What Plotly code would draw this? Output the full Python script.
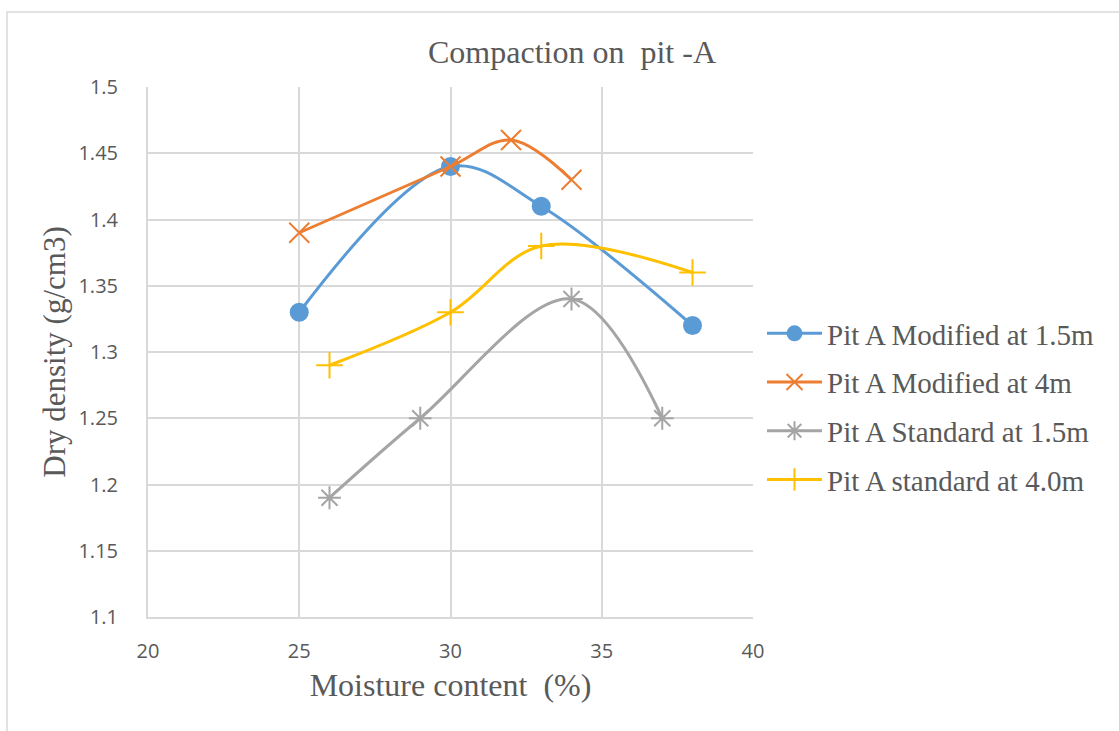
import plotly.graph_objects as go

mod15_x = [25, 30, 33, 38]
mod15_y = [1.33, 1.44, 1.41, 1.32]
mod4_x = [25, 30, 32, 34]
mod4_y = [1.39, 1.44, 1.46, 1.43]
std15_x = [26, 29, 34, 37]
std15_y = [1.19, 1.25, 1.34, 1.25]
std4_x = [26, 30, 33, 38]
std4_y = [1.29, 1.33, 1.38, 1.36]

names = ["Pit A Modified at 1.5m", "Pit A Modified at 4m",
         "Pit A Standard at 1.5m", "Pit A standard at 4.0m"]
colors = ["#5B9BD5", "#ED7D31", "#A5A5A5", "#FFC000"]
symbols = ["circle", "x-thin", "asterisk", "cross-thin"]
sizes = [19, 20, 19, 19]
xs = [mod15_x, mod4_x, std15_x, std4_x]
ys = [mod15_y, mod4_y, std15_y, std4_y]

fig = go.Figure()
for i in range(4):
    sym_line = dict(color=colors[i], width=2) if i > 0 else dict(width=0)
    fig.add_trace(go.Scatter(
        x=xs[i], y=ys[i], name=names[i], mode="lines+markers",
        line=dict(color=colors[i], width=3, shape="spline", smoothing=1.0),
        marker=dict(symbol=symbols[i], size=sizes[i], color=colors[i], line=sym_line),
        legendgroup=str(i),
    ))

W, H = 1119, 731
L, R, T, B = 148, 753, 87, 617
pw, ph = R - L, B - T

fig.update_layout(
    width=W, height=H,
    margin=dict(l=L, r=W - R, t=T, b=H - B),
    paper_bgcolor="white", plot_bgcolor="white",
    showlegend=True,
    title=dict(text="Compaction on  pit -A", x=572 / W, xanchor="center",
               y=1 - 52 / H, yanchor="middle", xref="container", yref="container",
               font=dict(family="Liberation Serif", size=32, color="#595959")),
    legend=dict(x=(762 - L) / pw, xanchor="left", y=(B - 308) / ph, yanchor="top",
                font=dict(family="Liberation Serif", size=29, color="#595959"),
                tracegroupgap=8, itemwidth=55, bgcolor="rgba(0,0,0,0)"),
    xaxis=dict(range=[20, 40], dtick=5, showgrid=True, gridcolor="#D9D9D9", gridwidth=2,
               zeroline=False, showline=True, linecolor="#D9D9D9", linewidth=2, ticks="",
               ticklabelstandoff=15,
               tickfont=dict(family="Open Sans", size=20, color="#595959"),
               title=dict(text="Moisture content  (%)", standoff=11,
                          font=dict(family="Liberation Serif", size=32, color="#595959"))),
    yaxis=dict(range=[1.1, 1.5], dtick=0.05, showgrid=True, gridcolor="#D9D9D9", gridwidth=2,
               zeroline=False, showline=True, linecolor="#D9D9D9", linewidth=2, ticks="",
               ticklabelstandoff=24,
               tickfont=dict(family="Open Sans", size=20, color="#595959"),
               title=dict(text="Dry density (g/cm3)", standoff=4,
                          font=dict(family="Liberation Serif", size=31, color="#595959"))),
    shapes=[dict(type="rect", xref="paper", yref="paper",
                 x0=(7 - L) / pw, x1=(1130 - L) / pw,
                 y0=(B - 745) / ph, y1=(B - 12) / ph,
                 line=dict(color="#D9D9D9", width=1.5), layer="below")],
)
fig.write_html("out.html")
